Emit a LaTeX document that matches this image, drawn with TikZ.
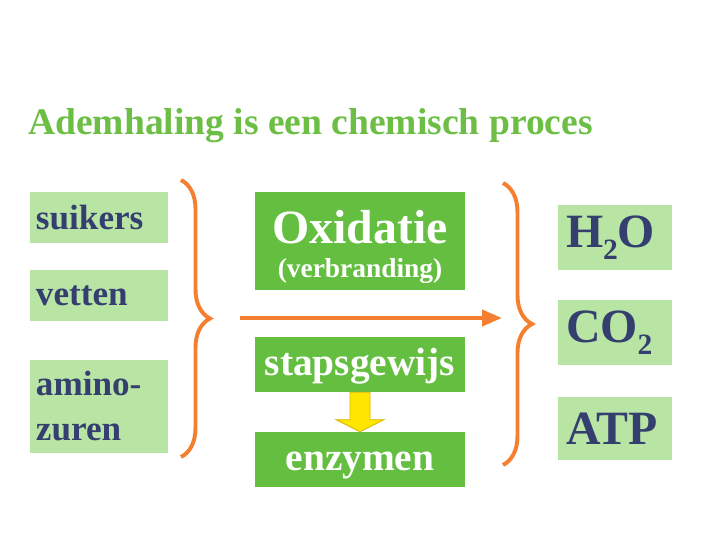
\documentclass[tikz,border=0pt]{standalone}
\usepackage{fontspec}
\setmainfont{Liberation Serif}
\usepackage{xcolor}
\usetikzlibrary{arrows.meta,decorations.pathreplacing}

\definecolor{titelgroen}{HTML}{6CBE45}
\definecolor{donkergroen}{HTML}{64BF40}
\definecolor{lichtgroen}{HTML}{B9E5A4}
\definecolor{donkerblauw}{HTML}{353F6F}
\definecolor{oranje}{HTML}{F47F30}
\definecolor{geel}{HTML}{FFE600}
\definecolor{geeldonker}{HTML}{D9B400}

\newcommand{\chemsub}[1]{\raisebox{-0.55ex}{\fontsize{21}{21}\selectfont #1}}

\begin{document}
\begin{tikzpicture}[x=0.25mm, y=-0.25mm,
      stof/.style={fill=lichtgroen, text=donkerblauw, font=\bfseries\fontsize{25}{32}\selectfont,
        align=left, inner xsep=1.5mm, text width=31.5mm, minimum height=12.75mm},
      oxibox/.style={fill=donkergroen, text=white, font=\bfseries\fontsize{34}{24}\selectfont,
        align=center, minimum width=52.5mm, minimum height=24.5mm},
      proces/.style={fill=donkergroen, text=white, font=\bfseries\fontsize{28}{30}\selectfont,
        minimum width=52.5mm, minimum height=13.75mm, text height=15.6pt, text depth=0pt},
      product/.style={fill=lichtgroen, text=donkerblauw, font=\bfseries\fontsize{34}{36}\selectfont,
        align=left, inner xsep=2mm, text width=24.5mm, minimum height=16.25mm},
      accolade/.style={draw=oranje, line width=2.8pt, decorate, decoration={brace, amplitude=7.25mm}},
      >={Triangle[length=5mm, width=4mm]}]
    \useasboundingbox (0,0) rectangle (720,540);

    \node[anchor=base west, inner sep=0, text=titelgroen, font=\bfseries\fontsize{26.7}{30}\selectfont]
      (titel) at (28,134) {Ademhaling is een chemisch proces};

    % beginstoffen
    \node[stof] (suik) at (99,217.5) {suikers};
    \node[stof] (vet) at (99,295.5) {vetten};
    \node[stof, minimum height=23.25mm] (amino) at (99,406.5) {amino-\\zuren};

    % proces
    \node[oxibox] (oxi) at (360,241)
      {\rule{0pt}{32pt}Oxidatie\\{\fontsize{19.5}{24}\selectfont (verbranding)}};
    \node[proces] (stap) at (360,364.5) {stapsgewijs};
    \node[proces] (enz) at (360,459.5) {enzymen};

    % producten
    \node[product] (h2o) at (615,237.5) {H\chemsub{2}O};
    \node[product] (co2) at (615,332.5) {CO\chemsub{2}};
    \node[product, minimum height=15.75mm] (atp) at (615,428.5) {ATP};

    \draw[accolade] (181,180) -- (181,457);
    \draw[accolade] (503,183) -- (503,465);

    \coordinate (pstart) at (240,318);
    \coordinate (peind) at (502,318);
    \draw[oranje, line width=2.8pt, ->] (pstart) -- (peind);

    \filldraw[fill=geel, draw=geeldonker, line width=0.6pt]
      ([xshift=-2.5mm]stap.south) -- ([xshift=2.5mm]stap.south)
      -- ([xshift=2.5mm, yshift=3mm]enz.north) -- ([xshift=6mm, yshift=3mm]enz.north)
      -- (enz.north) -- ([xshift=-6mm, yshift=3mm]enz.north)
      -- ([xshift=-2.5mm, yshift=3mm]enz.north) -- cycle;
  \end{tikzpicture}
\end{document}
